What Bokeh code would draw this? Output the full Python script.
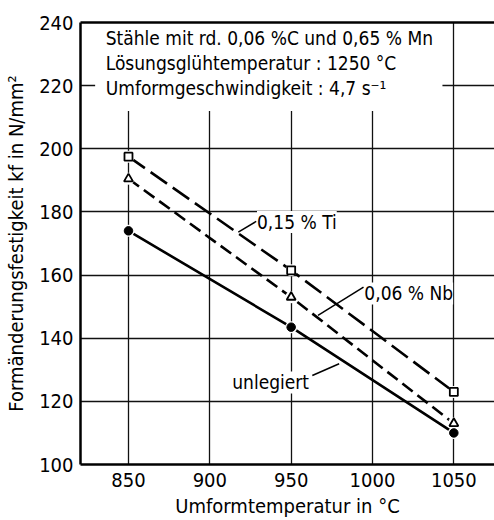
from bokeh.plotting import figure
from bokeh.models import Range1d, FixedTicker, LinearAxis, Label
from bokeh.core.properties import value
from bokeh.embed import file_html
from bokeh.resources import INLINE

# ---- data ----
temps = [850, 950, 1050]
ti_015 = [197.5, 161.5, 123.0]
nb_006 = [190.5, 153.0, 113.0]
unlegiert = [174.0, 143.5, 110.0]

x_ticks = [850, 900, 950, 1000, 1050]
y_ticks = [100, 120, 140, 160, 180, 200, 220, 240]

info_lines = ["Stähle mit rd. 0,06 %C und 0,65 % Mn",
              "Lösungsglühtemperatur : 1250 °C",
              "Umformgeschwindigkeit : 4,7 s⁻¹"]
info_x = [836, 836, 836]
info_y = [235.0, 227.1, 219.4]

series_labels = ["0,15 % Ti", "0,06 % Nb", "unlegiert"]
label_x = [929, 995, 961]
label_y = [176.8, 154.2, 126.0]
label_align = ["left", "left", "right"]
leader_x0 = [917.5, 966.5, 963.0]
leader_y0 = [173.6, 147.2, 128.2]
leader_x1 = [928.5, 994.5, 979.5]
leader_y1 = [177.0, 156.2, 131.9]

FONT = "'Liberation Sans Narrow', 'DejaVu Sans Condensed', 'Roboto Condensed', 'Liberation Sans', sans-serif"

p = figure(width=494, height=520, output_backend="svg", toolbar_location=None,
           x_range=Range1d(820.5, 1075), y_range=Range1d(100, 240),
           min_border_left=80, min_border_right=0, min_border_top=22, min_border_bottom=56)
p.outline_line_color = None
p.background_fill_color = "white"
p.border_fill_color = "white"

for ax in (p.xaxis[0], p.yaxis[0]):
    ax.axis_line_width = 2.5
    ax.axis_line_color = "black"
    ax.major_tick_in = 0
    ax.major_tick_out = 0
    ax.minor_tick_line_color = None
    ax.major_label_text_font = FONT
    ax.major_label_text_font_size = "20px"
    ax.major_label_text_color = "black"
    ax.axis_label_text_font = FONT
    ax.axis_label_text_font_size = "20px"
    ax.axis_label_text_font_style = "normal"
    ax.axis_label_text_color = "black"

p.xaxis[0].ticker = FixedTicker(ticks=x_ticks)
p.yaxis[0].ticker = FixedTicker(ticks=y_ticks)
p.xaxis[0].axis_label = "Umformtemperatur in °C"
p.yaxis[0].axis_label = "Formänderungsfestigkeit kf in N/mm²"
p.xaxis[0].major_label_standoff = 8
p.yaxis[0].major_label_standoff = 7
p.xaxis[0].axis_label_standoff = 4
p.yaxis[0].axis_label_standoff = 8

top = LinearAxis(ticker=FixedTicker(ticks=[]), major_label_text_font_size="0px",
                 major_tick_in=0, major_tick_out=0, minor_tick_line_color=None,
                 axis_line_width=2.5, axis_line_color="black")
p.add_layout(top, "above")

p.xgrid.ticker = FixedTicker(ticks=x_ticks)
p.ygrid.ticker = FixedTicker(ticks=[120, 140, 160, 180, 200, 220])
for g in (p.xgrid, p.ygrid):
    g.grid_line_color = "#111111"
    g.grid_line_width = 1.3
    g.grid_line_alpha = 1.0

# white box behind info text
p.quad(left=[829.5], right=[1043], bottom=[212], top=[240], fill_color="white", line_color=None)

p.text(x=info_x, y=info_y, text=info_lines, text_font=value(FONT), text_font_size="19px",
       text_baseline="middle", text_align="left", text_color="black")

# series lines
p.line(temps, ti_015, line_color="black", line_width=2.6, line_dash="20 7")
p.line(temps, nb_006, line_color="black", line_width=2.6, line_dash="13 6")
p.line(temps, unlegiert, line_color="black", line_width=2.6)

# small white halos so lines stop short of markers
for ys in (ti_015, nb_006, unlegiert):
    p.scatter(temps, ys, marker="circle", size=12, fill_color="white", line_color=None)

p.scatter(temps, ti_015, marker="square", size=8, fill_color="white", line_color="black", line_width=1.8)
p.scatter(temps, nb_006, marker="triangle", size=9, fill_color="white", line_color="black", line_width=1.8)
p.scatter(temps, unlegiert, marker="circle", size=8.5, fill_color="black", line_color="black")

p.segment(x0=leader_x0, y0=leader_y0, x1=leader_x1, y1=leader_y1, line_color="black", line_width=1.5)

for t, lx, ly, al in zip(series_labels, label_x, label_y, label_align):
    p.add_layout(Label(x=lx, y=ly, text=t, text_font=FONT, text_font_size="19px",
                       text_baseline="middle", text_align=al,
                       text_color="black", background_fill_color="white"))

open("out.html", "w").write(file_html(p, INLINE))
